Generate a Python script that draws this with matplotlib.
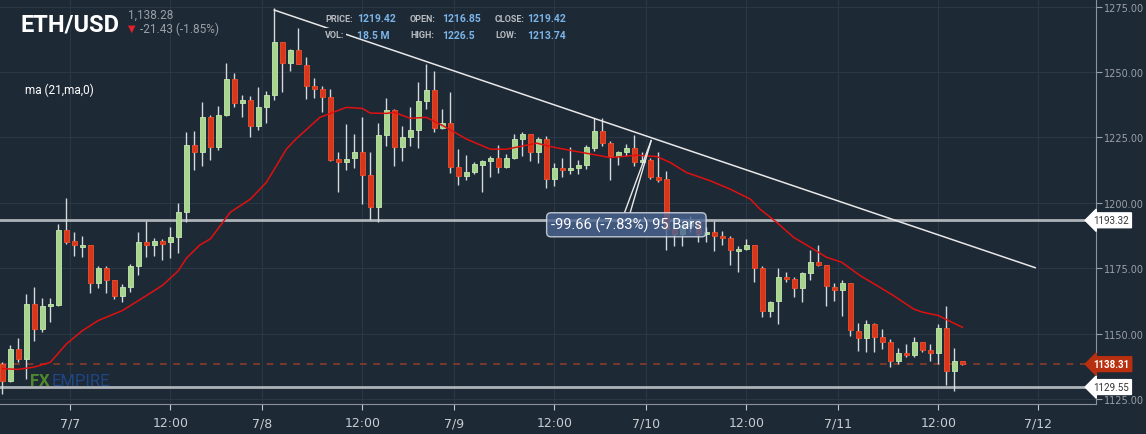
import matplotlib
matplotlib.use("Agg")
import matplotlib.pyplot as plt
import numpy as np

# hourly ETH/USD candles (index 0 = leftmost candle)
opens = [1138.5, 1132, 1144.2, 1140.4, 1161.4, 1151.8, 1160.5, 1161, 1189.7, 1185.3,
         1183, 1184, 1169.4, 1175, 1170.3, 1164.3, 1167.7, 1176, 1185, 1184,
         1185.3, 1185, 1186.9, 1196.4, 1222.1, 1219.5, 1232.7, 1221.2, 1233.7, 1247.3,
         1238, 1239.3, 1229.2, 1236.5, 1241.3, 1261.4, 1253.3, 1258.5, 1252.7, 1244.5,
         1243.7, 1240.6, 1216.7, 1215.7, 1217, 1219.3, 1210.7, 1198.3, 1225.9, 1235.5,
         1221.2, 1225, 1227.8, 1238.8, 1243.1, 1228.8, 1230.7, 1213.8, 1210.3, 1211.6,
         1214.6, 1216, 1217, 1213.8, 1217, 1224.4, 1226.3, 1219.3, 1224.4, 1209.3,
         1213.5, 1212.5, 1213.5, 1214.4, 1221, 1227.3, 1222.7, 1218, 1219.3, 1220.8,
         1215.7, 1216.3, 1209.7, 1209.3, 1189.9, 1188, 1191, 1192.5, 1188, 1188.9,
         1187.4, 1186.6, 1181.5, 1182.5, 1183.7, 1175, 1158.5, 1162.6, 1171.6, 1170.7,
         1167.3, 1173.1, 1177.3, 1176.4, 1168, 1166.8, 1169.3, 1151.1, 1148.2, 1153.5,
         1148.7, 1146.6, 1139.4, 1142.7, 1141.7, 1146.6, 1143.7, 1142.5, 1152.1, 1135.6,
         1139.4]
closes = [1132, 1144.2, 1140.4, 1161.4, 1151.8, 1160.7, 1161.2, 1189.7, 1185.2, 1183.7,
          1184, 1169.4, 1175, 1170.3, 1164.3, 1167.7, 1176, 1185, 1184, 1185.3,
          1184.3, 1186.9, 1196.4, 1222.1, 1219.5, 1232.7, 1221.2, 1233.7, 1247.3, 1238,
          1239.3, 1229.2, 1236.5, 1241.3, 1261.4, 1253.3, 1258.5, 1252.9, 1244.8, 1243.7,
          1240.6, 1216.5, 1215.7, 1216.7, 1219.3, 1210.7, 1198.3, 1225.9, 1235.5, 1221.2,
          1225, 1227.8, 1238.8, 1243.1, 1228.8, 1230.5, 1213.8, 1210.3, 1211.6, 1214.8,
          1215.9, 1217, 1213.8, 1217, 1224.4, 1226.3, 1219.3, 1224.4, 1209.3, 1213.5,
          1212.6, 1213.5, 1214.4, 1221.4, 1227.3, 1222.7, 1218, 1219.3, 1220.8, 1215.7,
          1216.5, 1209.7, 1208.8, 1189.9, 1188, 1191.2, 1192.5, 1188, 1188.9, 1187.4,
          1186.6, 1181.8, 1182.4, 1183.7, 1175, 1158.5, 1162.2, 1171.6, 1170.7, 1167.3,
          1173.1, 1177.3, 1176.4, 1168.1, 1166.8, 1169.3, 1151.5, 1148.2, 1153.7, 1148.7,
          1146.8, 1139.4, 1142.7, 1141.7, 1146.6, 1143.7, 1142.5, 1152.1, 1135.6, 1139.4,
          1138.3]
highs = [1139, 1145.5, 1148.3, 1165.2, 1167.7, 1163.5, 1163.6, 1192, 1201.7, 1188.8,
         1187.5, 1184, 1176, 1176, 1170.3, 1169, 1176.7, 1188.8, 1192.9, 1186.5,
         1186.2, 1190.7, 1200.1, 1227.2, 1227.5, 1238.4, 1233.5, 1237.1, 1253.4, 1249.6,
         1241.2, 1241, 1244.2, 1242.6, 1274.4, 1261.4, 1259, 1266.7, 1255.6, 1247.6,
         1244.7, 1243.7, 1219.5, 1230, 1226.3, 1233, 1219.3, 1230.5, 1240, 1235.8,
         1229.5, 1236.5, 1246.3, 1253, 1250.5, 1236, 1242.2, 1220.5, 1218.2, 1215.7,
         1216.2, 1217.9, 1222.1, 1218.6, 1226.3, 1226.9, 1226.3, 1225, 1225.6, 1215.4,
         1217.3, 1221.2, 1216.5, 1222, 1232.3, 1232.3, 1223.7, 1220, 1222.5, 1225.9,
         1219.3, 1217, 1219.5, 1212.2, 1190.5, 1192.5, 1195, 1193.8, 1190.7, 1192.9,
         1189.4, 1187.5, 1183.4, 1186.2, 1183.7, 1176, 1162.6, 1175, 1173.7, 1171.6,
         1173.5, 1182.1, 1184, 1176.4, 1169.3, 1170.3, 1169.3, 1154, 1155, 1154,
         1151.8, 1148.1, 1144.3, 1146.1, 1148.7, 1146.8, 1146.1, 1153.7, 1160.4, 1144.5,
         1139.6]
lows = [1127, 1131.5, 1139, 1132.7, 1147.3, 1150.5, 1154.3, 1160.7, 1184.3, 1179.6,
        1179.2, 1165.4, 1167.3, 1165.4, 1163.3, 1162.2, 1166, 1172.4, 1179.2, 1179.6,
        1178, 1178.8, 1181, 1192.6, 1212.6, 1214.2, 1216.5, 1220.3, 1233.3, 1236.5,
        1233, 1225, 1227.8, 1230.7, 1239.4, 1242.2, 1250.3, 1252.9, 1239.7, 1240,
        1234.6, 1216.1, 1204, 1212.6, 1213.5, 1199.5, 1193.6, 1192.6, 1221.8, 1214.2,
        1216.1, 1221.6, 1220.9, 1235.8, 1227.2, 1228.2, 1211.3, 1206.7, 1208.8, 1211,
        1204.3, 1210, 1211.3, 1213.4, 1216.7, 1218, 1216.1, 1215.4, 1205.5, 1206.3,
        1210, 1211, 1211, 1213.1, 1219.7, 1221.8, 1208.7, 1214.6, 1218, 1213.9,
        1215.3, 1209.3, 1208, 1182, 1183.5, 1183.5, 1189, 1185.2, 1185.2, 1181.4,
        1183.9, 1176.3, 1173.7, 1182, 1169.9, 1156.2, 1156.2, 1153.7, 1169.6, 1163.9,
        1162, 1170.3, 1176, 1160.5, 1162.6, 1156.6, 1149, 1143.5, 1142.9, 1142.9,
        1144.1, 1137.2, 1138.5, 1141.1, 1141.1, 1143, 1139.6, 1138.5, 1130.5, 1128.1,
        1138.1]

# 21-period moving average as drawn on the chart
ma_x = [0, 2, 4, 6, 8, 10, 12, 15, 18, 20, 22, 23, 24.7, 26, 28.5, 31, 33, 35.5, 36.7,
        39.7, 43, 45, 46, 48, 49, 51, 53, 55.5, 58, 61, 63, 66.8, 69, 72, 76, 79.3, 81.8,
        83.5, 85.5, 88.5, 91, 93.5, 94.7, 96.8, 98.9, 101, 103, 104.9, 107.2, 109.3,
        111.4, 113.9, 115, 117, 118.5, 120]
ma_vals = [1136.6, 1136.3, 1137.2, 1139, 1146, 1151.1, 1155, 1158.8, 1164.5, 1168.4, 1174,
           1178.8, 1183.9, 1186.2, 1196.4, 1201.4, 1207.8, 1220.5, 1224.4, 1232.7, 1236.5,
           1236.1, 1234.3, 1234.2, 1234.6, 1232.3, 1232.7, 1228.8, 1224.4, 1220.5, 1220.5,
           1222.8, 1221.2, 1219.5, 1217.3, 1218.2, 1217.7, 1215.4, 1211.6, 1208.4, 1205.2,
           1201.4, 1197.6, 1192.5, 1186.8, 1183, 1179.2, 1177.3, 1172.2, 1168.4, 1164.5,
           1159.4, 1158.2, 1156.9, 1154.6, 1152.4]

tick_pos = [8.5, 21, 32.5, 45, 56.5, 69, 80.5, 93, 104.5, 117, 129.5]
tick_labels = ["7/7", "12:00", "7/8", "12:00", "7/9", "12:00", "7/10", "12:00", "7/11", "12:00", "7/12"]
price_ticks = [1125, 1150, 1175, 1200, 1225, 1250, 1275]

trend_x = [34, 129.1]
trend_y = [1273.7, 1175.2]
support = [1193.32, 1129.55]
last_price = 1138.31

BG = "#1e2936"
GRID = "#2a3744"
UP = "#a6d68c"
DOWN = "#d8361b"

W, H = 1146, 435
fig = plt.figure(figsize=(W / 100, H / 100), dpi=100, facecolor=BG)
ax = fig.add_axes([0, 1 - 405 / H, 1096 / W, 405 / H], facecolor=BG)
plt.rcParams['font.family'] = ['Roboto', 'DejaVu Sans']

o = np.array(opens); c = np.array(closes)
x = np.arange(len(o))
up = c >= o
ax.vlines(x, lows, highs, color="#d5d8dc", lw=1, zorder=3)
body = np.where(np.abs(c - o) < 0.6, 0.6, c - o)
ax.bar(x[up], body[up], bottom=o[up], width=0.6, color=UP, edgecolor="#c6e8b2", lw=0.6, zorder=4)
ax.bar(x[~up], body[~up], bottom=o[~up], width=0.6, color=DOWN, edgecolor="#f0502e", lw=0.6, zorder=4)

ax.plot(ma_x, ma_vals, color="#e01010", lw=1.1, zorder=5)

for s in support:
    ax.axhline(s, color="#aeb3b8", lw=2, zorder=2)
ax.axhline(last_price, color="#8a3a28", lw=1.2, ls=(0, (4, 4)), zorder=2)

ax.plot(trend_x, trend_y, color="#e8e8e8", lw=1.1, zorder=6)
# measuring tool wedge and label
ax.plot([81.1, 77.8], [1223.8, 1196.5], color="#e8e8e8", lw=1, zorder=6)
ax.plot([81.1, 78.5], [1223.8, 1196.5], color="#e8e8e8", lw=1, zorder=6)
ax.text(78, 1191.6, "-99.66 (-7.83%) 95 Bars", color="white", fontsize=10.5, ha="center", va="center",
        zorder=8, bbox=dict(boxstyle="round,pad=0.3", fc="#4a6592", ec="#e0e6ee", lw=1, alpha=0.8))

ax.set_xlim(-0.29, 136.7)
ax.set_ylim(1123.07, 1277.94)
ax.set_xticks(tick_pos)
ax.set_xticklabels(tick_labels)
ax.set_yticks(price_ticks)
ax.set_yticklabels(["%.2f" % p for p in price_ticks])
ax.yaxis.tick_right()
ax.tick_params(axis="y", colors="#9aa0a6", labelsize=7, length=4, pad=2)
ax.tick_params(axis="x", colors="#c8ccd0", labelsize=9, length=4, pad=5)
ax.grid(True, color=GRID, lw=0.8, zorder=0)
for side in ["top", "left"]:
    ax.spines[side].set_visible(False)
ax.spines["right"].set_color("#8c939a")
ax.spines["bottom"].set_color("#8c939a")

# price tags on the right axis
for s in support:
    ax.annotate("%.2f" % s, xy=(1.0, s), xycoords=("axes fraction", "data"), xytext=(-2, 0),
                textcoords="offset points", va="center", ha="left", fontsize=7, color="#333",
                bbox=dict(boxstyle="larrow,pad=0.25", fc="white", ec="white"), annotation_clip=False, zorder=9)
ax.annotate("%.2f" % last_price, xy=(1.0, last_price), xycoords=("axes fraction", "data"), xytext=(-2, 0),
            textcoords="offset points", va="center", ha="left", fontsize=7, color="white", weight="bold",
            bbox=dict(boxstyle="larrow,pad=0.25", fc="#b8300f", ec="#b8300f"), annotation_clip=False, zorder=9)

def ftext(px, py, s, **kw):
    fig.text(px / W, 1 - py / H, s, **kw)

ftext(20, 25, "ETH/USD", color="white", fontsize=17, weight="bold", va="center")
ftext(128, 15, "1,138.28", color="#9aa0a6", fontsize=8.5, va="center")
ftext(128, 29, "\u25bc", color="#e8202a", fontsize=7, va="center")
ftext(140, 29, "-21.43 (-1.85%)", color="#9aa0a6", fontsize=8.5, va="center")
info = [("PRICE:", "1219.42", "OPEN:", "1216.85", "CLOSE:", "1219.42"),
        ("VOL:", "18.5 M", "HIGH:", "1226.5", "LOW:", "1213.74")]
for r, row in enumerate(info):
    yy = 19 + r * 17
    for k in range(3):
        ftext(325 + 85 * k, yy, row[2 * k], color="#b8bcc0", fontsize=6.5, weight="bold", va="center",
              bbox=dict(fc=BG, ec="none", pad=1.5))
        ftext(357 + 85 * k, yy, row[2 * k + 1], color="#7ab4e8", fontsize=7.5, weight="bold", va="center")
ftext(25, 90, "ma (21,ma,0)", color="white", fontsize=8.5, va="center")
ftext(30, 382, "FX", color="#5aa02c", fontsize=12, weight="bold", va="center", alpha=0.8)
ftext(52, 382, "EMPIRE", color="#1f4e9a", fontsize=12, va="center", alpha=0.8)

fig.savefig("out.png", dpi=100, facecolor=BG)
